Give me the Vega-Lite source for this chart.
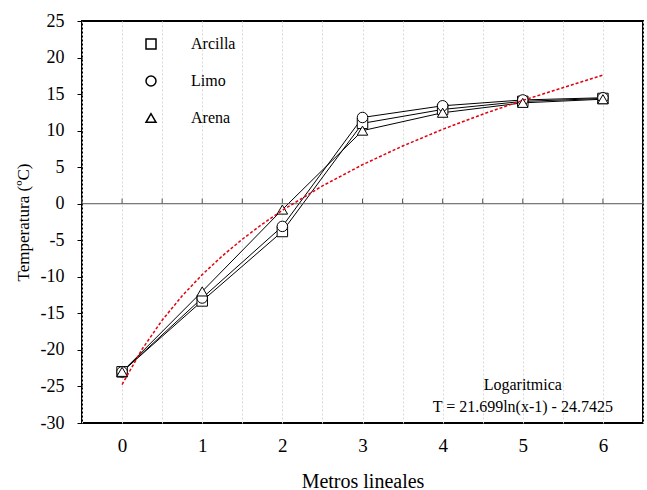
{
  "$schema": "https://vega.github.io/schema/vega-lite/v6.json",
  "width": 561,
  "height": 402,
  "autosize": {"type": "none"},
  "padding": {"left": 82, "top": 21, "right": 4, "bottom": 67},
  "background": "white",
  "config": {
    "view": {"stroke": "black", "strokeWidth": 2},
    "font": "Liberation Serif",
    "axisY": {
      "values": [-30, -25, -20, -15, -10, -5, 0, 5, 10, 15, 20, 25],
      "labelExpr": "(datum.value < 0 ? '-' : '') + abs(datum.value)",
      "labelOverlap": false,
      "grid": false, "domain": false, "ticks": true, "tickSize": 5, "tickColor": "black",
      "labelFont": "Liberation Serif", "labelFontSize": 18, "labelColor": "black", "labelPadding": 13,
      "titleFont": "Liberation Serif", "titleFontSize": 17, "titleFontWeight": "normal", "titleColor": "black", "titlePadding": 8
    }
  },
  "datasets": {
    "obs": [
      {"serie": "Arcilla", "x": 0, "T": -23.0},
      {"serie": "Arcilla", "x": 1, "T": -13.3},
      {"serie": "Arcilla", "x": 2, "T": -3.8},
      {"serie": "Arcilla", "x": 3, "T": 11.0},
      {"serie": "Arcilla", "x": 4, "T": 12.9},
      {"serie": "Arcilla", "x": 5, "T": 14.0},
      {"serie": "Arcilla", "x": 6, "T": 14.4},
      {"serie": "Limo", "x": 0, "T": -23.0},
      {"serie": "Limo", "x": 1, "T": -12.9},
      {"serie": "Limo", "x": 2, "T": -3.1},
      {"serie": "Limo", "x": 3, "T": 11.8},
      {"serie": "Limo", "x": 4, "T": 13.4},
      {"serie": "Limo", "x": 5, "T": 14.2},
      {"serie": "Limo", "x": 6, "T": 14.5},
      {"serie": "Arena", "x": 0, "T": -23.0},
      {"serie": "Arena", "x": 1, "T": -12.0},
      {"serie": "Arena", "x": 2, "T": -0.8},
      {"serie": "Arena", "x": 3, "T": 10.0},
      {"serie": "Arena", "x": 4, "T": 12.45},
      {"serie": "Arena", "x": 5, "T": 13.8},
      {"serie": "Arena", "x": 6, "T": 14.3}
    ],
    "fit": [
      {"x": 0, "T": -24.74},
      {"x": 0.25, "T": -19.90},
      {"x": 0.5, "T": -15.94},
      {"x": 0.75, "T": -12.60},
      {"x": 1, "T": -9.70},
      {"x": 1.25, "T": -7.15},
      {"x": 1.5, "T": -4.86},
      {"x": 1.75, "T": -2.79},
      {"x": 2, "T": -0.90},
      {"x": 2.5, "T": 2.44},
      {"x": 3, "T": 5.34},
      {"x": 3.5, "T": 7.89},
      {"x": 4, "T": 10.18},
      {"x": 4.5, "T": 12.25},
      {"x": 5, "T": 14.14},
      {"x": 5.5, "T": 15.87},
      {"x": 6, "T": 17.6}
    ],
    "ticks": [
      {"x": -0.5}, {"x": 0}, {"x": 0.5}, {"x": 1}, {"x": 1.5}, {"x": 2}, {"x": 2.5},
      {"x": 3}, {"x": 3.5}, {"x": 4}, {"x": 4.5}, {"x": 5}, {"x": 5.5}, {"x": 6}, {"x": 6.5}
    ],
    "note": [
      {"text": "Logaritmica"}
    ]
  },
  "layer": [
    {
      "data": {"name": "obs"},
      "mark": {"type": "line", "color": "black", "strokeWidth": 1},
      "encoding": {
        "x": {
          "field": "x", "type": "quantitative",
          "scale": {"domain": [-0.5, 6.5], "nice": false, "zero": false},
          "axis": {
            "values": [-0.5, 0, 0.5, 1, 1.5, 2, 2.5, 3, 3.5, 4, 4.5, 5, 5.5, 6, 6.5],
            "labelExpr": "datum.value % 1 === 0 ? '' + datum.value : ''",
            "grid": true, "gridColor": "#d9d9d9", "gridDash": [2, 2], "gridWidth": 1,
            "ticks": false, "domain": false,
            "labelFont": "Liberation Serif", "labelFontSize": 19, "labelColor": "black",
            "labelPadding": 13,
            "title": "Metros lineales", "titleFont": "Liberation Serif", "titleFontSize": 20,
            "titleFontWeight": "normal", "titleColor": "black", "titlePadding": 16
          }
        },
        "y": {
          "field": "T", "type": "quantitative",
          "scale": {"domain": [-30, 25], "nice": false},
          "axis": {"title": "Temperatura (ºC)", "values": [-30, -25, -20, -15, -10, -5, 0, 5, 10, 15, 20, 25]}
        },
        "detail": {"field": "serie"}
      }
    },
    {
      "data": {"name": "ticks"},
      "mark": {"type": "line", "color": "#555555", "strokeWidth": 1},
      "encoding": {
        "x": {"field": "x", "type": "quantitative"},
        "y": {"datum": 0, "type": "quantitative", "axis": {"title": "Temperatura (ºC)", "values": [-30, -25, -20, -15, -10, -5, 0, 5, 10, 15, 20, 25]}}
      }
    },
    {
      "data": {"name": "ticks"},
      "mark": {"type": "rule", "color": "#555555", "strokeWidth": 1},
      "encoding": {
        "x": {"field": "x", "type": "quantitative"},
        "y": {"datum": 0, "type": "quantitative", "axis": {"title": "Temperatura (ºC)", "values": [-30, -25, -20, -15, -10, -5, 0, 5, 10, 15, 20, 25]}},
        "y2": {"datum": 0.7}
      }
    },
    {
      "data": {"name": "obs"},
      "mark": {"type": "point", "filled": true, "fill": "white", "stroke": "black", "strokeWidth": 1, "opacity": 1, "size": 110},
      "encoding": {
        "x": {"field": "x", "type": "quantitative"},
        "y": {"field": "T", "type": "quantitative", "axis": {"title": "Temperatura (ºC)", "values": [-30, -25, -20, -15, -10, -5, 0, 5, 10, 15, 20, 25]}},
        "shape": {
          "field": "serie", "type": "nominal",
          "scale": {"domain": ["Arcilla", "Limo", "Arena"], "range": ["square", "circle", "triangle-up"]},
          "legend": {
            "orient": "none", "legendX": 61, "legendY": 15, "title": null,
            "symbolSize": 100,
            "labelFont": "Liberation Serif", "labelFontSize": 16, "labelColor": "black",
            "labelOffset": 32, "rowPadding": 21,
            "encode": {
              "symbols": {
                "fill": {"value": "white"},
                "stroke": {"value": "black"},
                "strokeWidth": {"value": 1},
                "opacity": {"value": 1}
              }
            }
          }
        }
      }
    },
    {
      "data": {"name": "fit"},
      "mark": {"type": "line", "color": "#e3000f", "strokeWidth": 1.5, "strokeDash": [3, 2]},
      "encoding": {
        "x": {"field": "x", "type": "quantitative"},
        "y": {"field": "T", "type": "quantitative", "axis": {"title": "Temperatura (ºC)", "values": [-30, -25, -20, -15, -10, -5, 0, 5, 10, 15, 20, 25]}}
      }
    },
    {
      "data": {"name": "note"},
      "mark": {"type": "text", "font": "Liberation Serif", "fontSize": 16, "color": "black", "align": "center", "baseline": "middle", "lineHeight": 22},
      "encoding": {
        "x": {"datum": 5, "type": "quantitative"},
        "y": {"datum": -24.8, "type": "quantitative", "axis": {"title": "Temperatura (ºC)", "values": [-30, -25, -20, -15, -10, -5, 0, 5, 10, 15, 20, 25]}},
        "text": {"value": ["Logaritmica", "T = 21.699ln(x-1)  - 24.7425"]}
      }
    }
  ]
}
